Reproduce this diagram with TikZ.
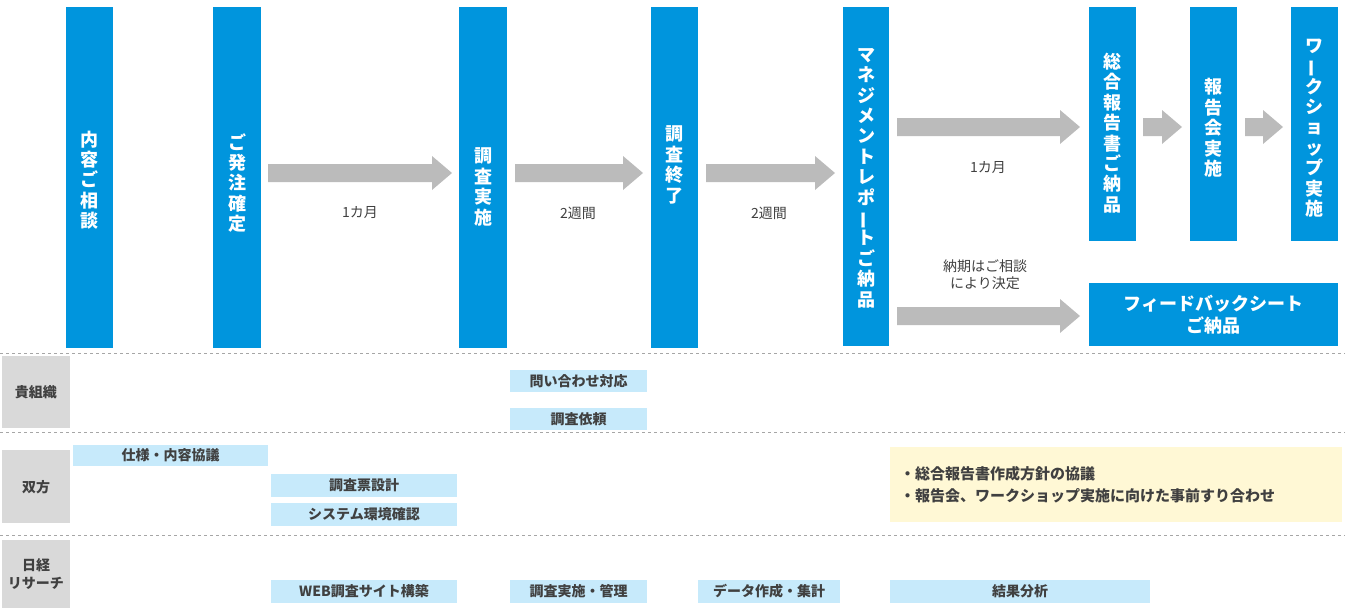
\documentclass[tikz,border=0pt]{standalone}
\usepackage{fontspec}
\setmainfont{Noto Sans CJK JP}
\begin{document}
\begin{tikzpicture}[x=1pt,y=-1pt,
  bar/.style={fill=barblue,draw=none},
  vtext/.style={text=white,font=\fontsize{18}{20.4}\selectfont\bfseries,align=center,inner sep=0},
  task/.style={fill=taskblue,draw=none},
  tasktext/.style={text=txt,font=\fontsize{14}{16}\selectfont\bfseries,inner sep=0},
  side/.style={fill=sidegray,draw=none},
  garrow/.style={fill=arrgray,draw=none},
  lbl/.style={text=txt,font=\fontsize{14}{17}\selectfont,align=center,inner sep=0},
  sepline/.style={draw=gray!70,dashed,line width=0.8pt}]
\definecolor{barblue}{HTML}{0095DD}
\definecolor{taskblue}{HTML}{C7EAFB}
\definecolor{sidegray}{HTML}{D9D9D9}
\definecolor{arrgray}{HTML}{BBBBBB}
\definecolor{txt}{HTML}{404040}
\definecolor{yel}{HTML}{FFF8D5}
\newcommand\vb{\rotatebox[origin=c]{90}{ー}}
\useasboundingbox (0,0) rectangle (1345,610);
% blue bars
\path[bar] (66,7) rectangle (113,348); \node[vtext] (b1) at (89.5,180) {内\\容\\ご\\相\\談};
\path[bar] (213,7) rectangle (261,348); \node[vtext] (b2) at (237,183) {ご\\発\\注\\確\\定};
\path[bar] (459,7) rectangle (507,348); \node[vtext] (b3) at (483,187) {調\\査\\実\\施};
\path[bar] (651,7) rectangle (698,348); \node[vtext] (b4) at (674.5,165) {調\\査\\終\\了};
\path[bar] (843,7) rectangle (889,346); \node[vtext] (b5) at (866,178) {マ\\ネ\\ジ\\メ\\ン\\ト\\レ\\ポ\\\vb\\ト\\ご\\納\\品};
\path[bar] (1089,7) rectangle (1136,241); \node[vtext] (b6) at (1112.5,133) {総\\合\\報\\告\\書\\ご\\納\\品};
\path[bar] (1190,7) rectangle (1237,241); \node[vtext] (b7) at (1213.5,128) {報\\告\\会\\実\\施};
\path[bar] (1291,7) rectangle (1338,241); \node[vtext] (b8) at (1314.5,128) {ワ\\\vb\\ク\\シ\\ョ\\ッ\\プ\\実\\施};
\path[bar] (1089,283) rectangle (1338,346);
\node[text=white,font=\fontsize{18}{22}\selectfont\bfseries,align=center] (fb) at (1213.5,315) {フィードバックシート\\ご納品};
% gray arrows
\newcommand\garr[3]{\path[garrow] (#1,#3-9) -- (#2-20,#3-9) -- (#2-20,#3-17) -- (#2,#3) -- (#2-20,#3+17) -- (#2-20,#3+9) -- (#1,#3+9) -- cycle;}
\garr{268}{452}{173}
\garr{515}{643}{173}
\garr{706}{835}{173}
\garr{897}{1080}{127}
\garr{1143}{1182}{127}
\garr{1245}{1283}{127}
\garr{897}{1080}{316}
\node[lbl] (l1) at (360,213) {1カ月};
\node[lbl] (l2) at (578,213) {2週間};
\node[lbl] (l3) at (769,213) {2週間};
\node[lbl] (l4) at (988,168) {1カ月};
\node[lbl] (l5) at (985,275) {納期はご相談\\により決定};
% dashed lines
\draw[sepline] (0,353) -- (1345,353);
\draw[sepline] (0,432) -- (1345,432);
\draw[sepline] (0,535) -- (1345,535);
% side labels
\path[side] (2,356) rectangle (70,428); \node[tasktext] (s1) at (36,392) {貴組織};
\path[side] (2,450) rectangle (70,523); \node[tasktext] (s2) at (36,487) {双方};
\path[side] (2,540) rectangle (70,608); \node[tasktext,align=center,font=\fontsize{14}{18}\selectfont\bfseries] (s3) at (36,574) {日経\\リサーチ};
% tasks
\newcommand\task[6]{\path[task] (#1,#2) rectangle (#3,#4); \node[tasktext] (#6) at ({(#1+#3)/2},{(#2+#4)/2}) {#5};}
\task{510}{370}{647}{392}{問い合わせ対応}{t1}
\task{510}{408}{647}{430}{調査依頼}{t2}
\task{73}{445}{268}{466}{仕様・内容協議}{t3}
\task{271}{474}{457}{497}{調査票設計}{t4}
\task{271}{503}{457}{526}{システム環境確認}{t5}
\task{271}{580}{457}{603}{WEB調査サイト構築}{t6}
\task{510}{580}{647}{603}{調査実施・管理}{t7}
\task{698}{580}{840}{603}{データ作成・集計}{t8}
\task{890}{580}{1150}{603}{結果分析}{t9}
\path[fill=yel] (890,447) rectangle (1342,522);
\node[tasktext,anchor=west,align=left,font=\fontsize{15}{22}\selectfont\bfseries] (y) at (900,485) {・総合報告書作成方針の協議\\・報告会、ワークショップ実施に向けた事前すり合わせ};
\end{tikzpicture}
\end{document}
